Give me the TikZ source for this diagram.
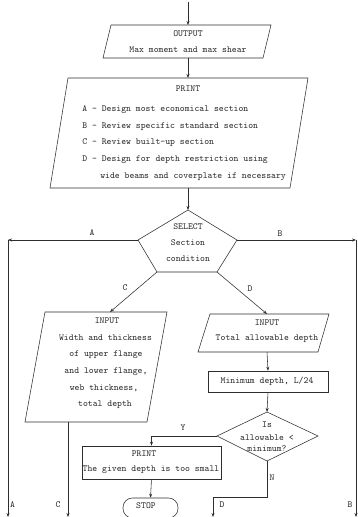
\documentclass[tikz,border=0pt]{standalone}
\usetikzlibrary{arrows.meta}
\begin{document}
\begin{tikzpicture}[x=1pt,y=-1pt,
  line width=0.55pt, color=black!82,
  flow/.style={-{Stealth[length=4pt,width=3pt]}},
  txt/.style={font=\fontsize{9.3}{11}\selectfont\ttfamily, inner sep=0pt},
  box/.style={draw, rectangle, inner sep=0pt},
  lbl/.style={txt},
]
\useasboundingbox (0,0) rectangle (358,517);
\clip (0,0) rectangle (358,517);

% ---------- OUTPUT ----------
\coordinate (entry) at (188,2);
\coordinate (out-in) at (188,25);
\coordinate (out-out) at (188,58);
\draw (111,25) -- (271,25) -- (263,58) -- (103,58) -- cycle;
\node[txt] (out-h) at (188,34) {OUTPUT};
\node[txt] (out-t) at (188,50) {Max moment and max shear};
\draw[flow] (entry) -- (out-in);

% ---------- PRINT options ----------
\coordinate (pr-in) at (188,78);
\coordinate (pr-out) at (188,188);
\draw (68,78) -- (308,78) -- (290,188) -- (50,188) -- cycle;
\node[txt] (pr-h) at (188,89) {PRINT};
\node[txt, anchor=west] (pr-a) at (82,110) {A - Design most economical section};
\node[txt, anchor=west] (pr-b) at (82,127) {B - Review specific standard section};
\node[txt, anchor=west] (pr-c) at (82,143) {C - Review built-up section};
\node[txt, anchor=west] (pr-d) at (82,160) {D - Design for depth restriction using};
\node[txt, anchor=west] (pr-e) at (100,177) {wide beams and coverplate if necessary};
\draw[flow] (out-out) -- (pr-in);

% ---------- SELECT ----------
\coordinate (sel-t) at (188,210);
\coordinate (sel-r) at (237,240);
\coordinate (sel-br) at (217,272);
\coordinate (sel-bl) at (157,272);
\coordinate (sel-l) at (138,240);
\draw (sel-t) -- (sel-r) -- (sel-br) -- (sel-bl) -- (sel-l) -- cycle;
\node[txt] (sel-1) at (188,227) {SELECT};
\node[txt] (sel-2) at (188,243) {Section};
\node[txt] (sel-3) at (188,259) {condition};
\draw[flow] (pr-out) -- (sel-t);

% branch A (left edge)
\coordinate (a-turn) at (8,240);
\coordinate (a-end) at (8,517);
\draw[flow] (sel-l) -- (a-turn);
\draw[flow] (a-turn) -- (a-end);
\node[lbl] (a-lab) at (92,233) {A};
\node[lbl] (a-lab2) at (12.5,505) {A};

% branch B (right edge)
\coordinate (b-turn) at (356,240);
\coordinate (b-end) at (356,517);
\draw[flow] (sel-r) -- (b-turn);
\draw[flow] (b-turn) -- (b-end);
\node[lbl] (b-lab) at (280,234) {B};
\node[lbl] (b-lab2) at (350,505) {B};

% ---------- branch C: built-up input ----------
\coordinate (c-in) at (110,312);
\coordinate (c-out) at (68,422);
\coordinate (c-end) at (68,517);
\draw (45,312) -- (167,312) -- (147,422) -- (25,422) -- cycle;
\node[txt] (c-h) at (107,321) {INPUT};
\node[txt] (c-1) at (105.5,338) {Width and thickness};
\node[txt] (c-2) at (106,355) {of upper flange};
\node[txt] (c-3) at (106,372) {and lower flange,};
\node[txt] (c-4) at (104,388) {web thickness,};
\node[txt] (c-5) at (105,405) {total depth};
\draw[flow] (sel-bl) -- (c-in);
\draw[flow] (c-out) -- (c-end);
\node[lbl] (c-lab) at (125,288) {C};
\node[lbl] (c-lab2) at (58,505) {C};

% ---------- branch D: depth restriction ----------
\coordinate (d-in) at (267,314);
\coordinate (d-out) at (267,352);
\draw (210,314) -- (329,314) -- (318,352) -- (198,352) -- cycle;
\node[txt] (d-h) at (267,323) {INPUT};
\node[txt] (d-t) at (267,339) {Total allowable depth};
\draw[flow] (sel-br) -- (d-in);
\node[lbl] (d-lab) at (250,289) {D};

\node[box, minimum width=120pt, minimum height=21pt] (minbox) at (268,381.5) {};
\node[txt] (min-t) at (267,381) {Minimum depth, L/24};
\draw[flow] (d-out) -- (minbox.north);

% decision
\coordinate (dia-t) at (267,412);
\coordinate (dia-r) at (318,436);
\coordinate (dia-b) at (267,461);
\coordinate (dia-l) at (217,436);
\draw (dia-t) -- (dia-r) -- (dia-b) -- (dia-l) -- cycle;
\node[txt] (dia-1) at (267,425) {Is};
\node[txt] (dia-2) at (267,438) {allowable <};
\node[txt] (dia-3) at (267,449) {minimum?};
\draw[flow] (minbox.south) -- (dia-t);

% yes: depth too small
\node[box, minimum width=139pt, minimum height=33pt] (pbox) at (151.5,462.5) {};
\node[txt] (pbox-h) at (144,454) {PRINT};
\node[txt] (pbox-t) at (151,470) {The given depth is too small};
\draw[flow] (dia-l) -| (pbox.north);
\node[lbl] (y-lab) at (183,428) {Y};

\node[draw, rounded corners=9.5pt, minimum width=55pt, minimum height=20pt,
      inner sep=0pt] (stop) at (150.5,508) {};
\node[txt] (stop-t) at (146,506) {STOP};
\draw[flow] (pbox.south) -- (stop.north);

% no: continue with D
\coordinate (n-turn) at (267,497);
\coordinate (n-end) at (213,517);
\draw[flow] (dia-b) -- (n-turn) -| (n-end);
\node[lbl] (n-lab) at (272,478) {N};
\node[lbl] (d-lab2) at (222,505) {D};
\end{tikzpicture}
\end{document}
